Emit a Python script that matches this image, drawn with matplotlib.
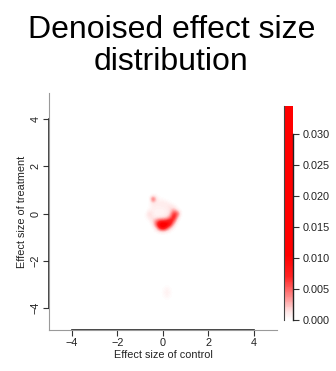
import numpy as np
import matplotlib
matplotlib.use("Agg")
import matplotlib.pyplot as plt
from matplotlib.colors import LinearSegmentedColormap

plt.rcParams["font.family"] = ["Liberation Sans", "DejaVu Sans"]

# densidad (x1e-3), bloque principal
xs_main = [-0.9, -0.75, -0.6, -0.45, -0.3, -0.15, 0.0, 0.15, 0.3, 0.45, 0.6, 0.75, 0.9]
ys_main = [0.9, 0.75, 0.6, 0.45, 0.3, 0.15, 0.0, -0.15, -0.3, -0.45, -0.6, -0.75, -0.9]
dens_main = [
    [0, 0, 0, 0, 0, 0, 0, 0, 0, 0, 0, 0, 0],
    [0, 0, 0, 0.4, 0.3, 0, 0, 0, 0, 0, 0, 0, 0],
    [0, 0, 0, 7.0, 1.0, 0.3, 0.3, 0, 0, 0, 0, 0, 0],
    [0, 0, 0, 1.5, 1.0, 1.0, 1.0, 0.8, 0.3, 0, 0, 0, 0],
    [0, 0, 0.3, 0.8, 0.8, 0.8, 0.9, 1.0, 1.4, 0.8, 0, 0, 0],
    [0, 0, 0.5, 0.8, 0.6, 0.6, 0.6, 0.8, 1.5, 3.0, 1.0, 0, 0],
    [0, 0.3, 2.0, 0.8, 0.5, 0.5, 0.6, 0.8, 2.0, 7.0, 6.0, 0.5, 0],
    [0, 0.3, 1.5, 1.0, 0.8, 0.8, 1.0, 1.5, 4.0, 9.0, 3.0, 0, 0],
    [0, 0, 0.3, 2.0, 4.0, 6.0, 6.0, 7.0, 9.0, 6.0, 0.5, 0, 0],
    [0, 0, 0, 1.0, 6.0, 12.0, 14.0, 12.0, 8.0, 2.0, 0, 0, 0],
    [0, 0, 0, 0.2, 2.0, 8.0, 10.0, 6.0, 2.0, 0.3, 0, 0, 0],
    [0, 0, 0, 0, 0.3, 0.8, 1.2, 0.6, 0.2, 0, 0, 0, 0],
    [0, 0, 0, 0, 0, 0, 0, 0, 0, 0, 0, 0, 0],
]

# mancha tenue inferior
xs_spot = [-0.15, 0.0, 0.15, 0.3, 0.45]
ys_spot = [-2.9, -3.05, -3.2, -3.35, -3.5, -3.65, -3.8]
dens_spot = [
    [0, 0, 0, 0, 0],
    [0, 0, 0.2, 0, 0],
    [0, 0.2, 0.6, 0.2, 0],
    [0, 0.3, 0.9, 0.3, 0],
    [0, 0.2, 0.6, 0.2, 0],
    [0, 0, 0.2, 0, 0],
    [0, 0, 0, 0, 0],
]

ticks_xy = [-4, -2, 0, 2, 4]
ticks_cb = [0.000, 0.005, 0.010, 0.015, 0.020, 0.025, 0.030]
vmax = 0.0345

cmap = LinearSegmentedColormap.from_list(
    "blanco_rojo",
    [(0, "#ffffff"), (0.04, "#ffe2e2"), (0.1, "#ff9494"),
     (0.2, "#ff2424"), (0.3, "#ff0000"), (1, "#ff0000")])
cmap.set_under("#ffffff")


def extent(xs, ys):
    dx = abs(xs[1] - xs[0]) / 2
    dy = abs(ys[1] - ys[0]) / 2
    return [min(xs) - dx, max(xs) + dx, min(ys) - dy, max(ys) + dy]


fig = plt.figure(figsize=(3.36, 3.71), dpi=100)
ax = fig.add_axes([0.146, 0.1105, 0.678, 0.6385])
cax = fig.add_axes([0.845, 0.1375, 0.027, 0.5768])

for xs, ys, d in [(xs_main, ys_main, dens_main), (xs_spot, ys_spot, dens_spot)]:
    im = ax.imshow(np.array(d) * 1e-3, extent=extent(xs, ys), origin="upper",
                   cmap=cmap, vmin=0, vmax=vmax, interpolation="bicubic",
                   aspect="auto")

ax.set_xlim(-5.01, 5.01)
ax.set_ylim(-4.93, 5.1)
ax.set_xticks(ticks_xy)
ax.set_yticks(ticks_xy)
ax.set_xticklabels([f"{t}".replace("-", "\u2212") for t in ticks_xy])
ax.set_yticklabels([f"{t}".replace("-", "\u2212") for t in ticks_xy],
                   rotation=90, va="center")
ax.tick_params(length=4, width=0.8, color="#333333", labelsize=7.8,
               labelcolor="#222222", pad=2)
for s in ["top", "right"]:
    ax.spines[s].set_visible(False)
for s in ["left", "bottom"]:
    ax.spines[s].set_color("#9a9a9a")
    ax.spines[s].set_linewidth(0.8)
# linea del eje en el rango de ticks (estilo R)
ax.plot([0, 0], [min(ticks_xy), max(ticks_xy)], color="#222222", lw=1.2,
        transform=ax.get_yaxis_transform(), clip_on=False)
ax.plot([min(ticks_xy), max(ticks_xy)], [0, 0], color="#222222", lw=1.2,
        transform=ax.get_xaxis_transform(), clip_on=False)
ax.set_xlabel("Effect size of control", fontsize=7.8, color="#222222", labelpad=1)
ax.set_ylabel("Effect size of treatment", fontsize=7.8, color="#222222", labelpad=3)

cb = fig.colorbar(im, cax=cax, ticks=ticks_cb, format="%.3f")
cb.outline.set_visible(False)
cax.tick_params(length=4, width=0.8, color="#333333", labelsize=7.8,
                labelcolor="#222222", pad=3)
cax.plot([1, 1], [min(ticks_cb), max(ticks_cb)], color="#222222", lw=1.0,
         transform=cax.get_yaxis_transform(), clip_on=False)
cax.plot([0, 0], [0, 1], color="#444444", lw=0.8, transform=cax.transAxes,
         clip_on=False)

fig.text(0.51, 0.8976, "Denoised effect size", ha="center", va="baseline",
         fontsize=23)
fig.text(0.51, 0.8113, "distribution", ha="center", va="baseline", fontsize=23)

fig.savefig("out.png", dpi=100)
